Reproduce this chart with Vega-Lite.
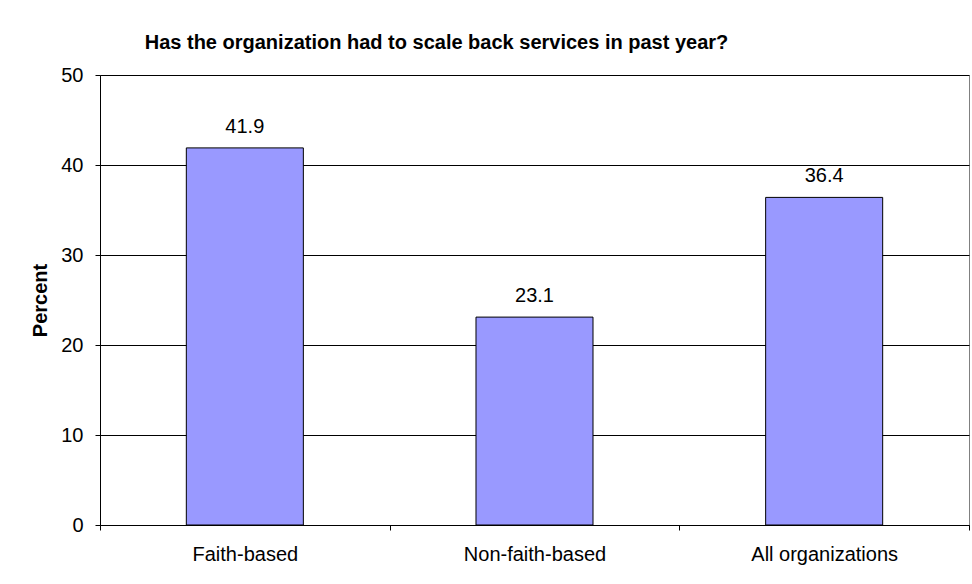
{
  "$schema": "https://vega.github.io/schema/vega-lite/v6.json",
  "width": 869,
  "height": 450,
  "autosize": "none",
  "padding": {"left": 100, "top": 75, "right": 3, "bottom": 59},
  "background": "white",
  "title": {
    "text": "Has the organization had to scale back services in past year?",
    "font": "Liberation Sans",
    "fontSize": 20,
    "fontWeight": "bold",
    "color": "black",
    "anchor": "middle",
    "dx": -98,
    "offset": 12
  },
  "data": {
    "values": [
      {"group": "Faith-based", "percent": 41.9},
      {"group": "Non-faith-based", "percent": 23.1},
      {"group": "All organizations", "percent": 36.4}
    ]
  },
  "encoding": {
    "x": {
      "field": "group",
      "type": "nominal",
      "sort": null,
      "scale": {"paddingInner": 0, "paddingOuter": 0},
      "axis": {
        "title": null,
        "labelAngle": 0,
        "labelFont": "Liberation Sans",
        "labelFontSize": 20,
        "labelColor": "black",
        "labelPadding": 14,
        "tickBand": "extent",
        "tickSize": 5,
        "tickColor": "black",
        "domainColor": "black",
        "grid": false
      }
    },
    "y": {
      "field": "percent",
      "type": "quantitative",
      "scale": {"domain": [0, 50]},
      "axis": {
        "title": "Percent",
        "titleFont": "Liberation Sans",
        "titleFontSize": 20,
        "titleFontWeight": "bold",
        "titleColor": "black",
        "titlePadding": 10,
        "values": [0, 10, 20, 30, 40, 50],
        "labelFont": "Liberation Sans",
        "labelFontSize": 20,
        "labelColor": "black",
        "labelPadding": 12,
        "tickSize": 5,
        "tickColor": "black",
        "domainColor": "black",
        "grid": true,
        "gridColor": "black",
        "gridOpacity": 1
      }
    }
  },
  "layer": [
    {
      "mark": {"type": "bar", "width": {"band": 0.404}, "fill": "#9999FF", "stroke": "black", "strokeWidth": 1}
    },
    {
      "mark": {"type": "text", "baseline": "alphabetic", "dy": -15, "font": "Liberation Sans", "fontSize": 20, "color": "black"},
      "encoding": {"text": {"field": "percent", "type": "quantitative", "format": ".1f"}}
    }
  ],
  "config": {
    "view": {"stroke": "#808080", "strokeWidth": 1}
  }
}
